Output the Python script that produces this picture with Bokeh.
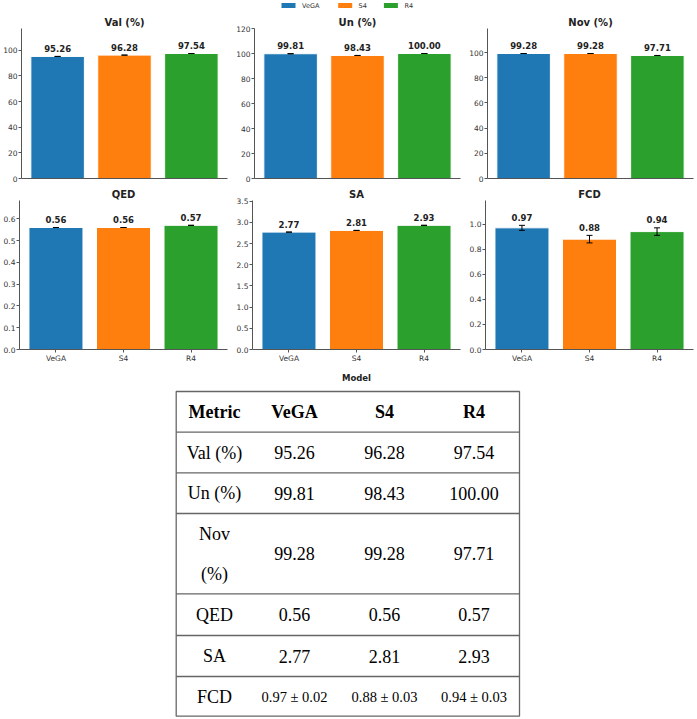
from bokeh.plotting import figure
from bokeh.models import Range1d, FixedTicker, ColumnDataSource, Whisker, TeeHead
from bokeh.layouts import column, row
from bokeh.embed import file_html
from bokeh.resources import INLINE
from bokeh.core.properties import value

# ---- data -------------------------------------------------------------
models = ["VeGA", "S4", "R4"]
colors = ["#1f77b4", "#ff7f0e", "#2ca02c"]
metrics = ["Val (%)", "Un (%)", "Nov (%)", "QED", "SA", "FCD"]

val_pct = [95.26, 96.28, 97.54]
un_pct = [99.81, 98.43, 100.00]
nov_pct = [99.28, 99.28, 97.71]
qed = [0.56, 0.56, 0.57]
sa = [2.77, 2.81, 2.93]
fcd = [0.97, 0.88, 0.94]
fcd_std = [0.02, 0.03, 0.03]
no_std = [0.0, 0.0, 0.0]

yticks_val = [0, 20, 40, 60, 80, 100]
yticks_un = [0, 20, 40, 60, 80, 100, 120]
yticks_nov = [0, 20, 40, 60, 80, 100]
yticks_qed = [0.0, 0.1, 0.2, 0.3, 0.4, 0.5, 0.6]
yticks_sa = [0.0, 0.5, 1.0, 1.5, 2.0, 2.5, 3.0, 3.5]
yticks_fcd = [0.0, 0.2, 0.4, 0.6, 0.8, 1.0]

SANS = "DejaVu Sans"
SERIF = "Liberation Serif"
AXIS_GREY = "#555555"
TEXT_GREY = "#333333"


def panel(title, means, stds, yticks, tick_fmt, bottom_row, width, min_right, xlabel=None):
    ymax = max(m + s for m, s in zip(means, stds)) * 1.2
    p = figure(
        width=width, height=201 if bottom_row else 172,
        x_range=Range1d(-0.54, 2.54), y_range=Range1d(0, ymax),
        output_backend="svg", toolbar_location=None,
        min_border_left=19, min_border_right=min_right,
        min_border_top=16,
        min_border_bottom=35 if bottom_row else 6,
        background_fill_color="white", border_fill_color="white",
    )
    p.outline_line_color = None
    p.grid.visible = False

    p.title.text = title
    p.title.align = "center"
    p.title.text_font = SANS
    p.title.text_font_style = "bold"
    p.title.text_font_size = "10px"
    p.title.text_color = "#222222"
    p.title.standoff = 1

    xs = list(range(len(models)))
    src = ColumnDataSource(dict(
        x=xs, top=means, color=colors,
        upper=[m + s for m, s in zip(means, stds)],
        lower=[m - s for m, s in zip(means, stds)],
        label=[f"{m:.2f}" for m in means],
    ))
    p.vbar(x="x", top="top", width=0.8, source=src, fill_color="color",
           line_color="white", line_width=1)

    whisk = Whisker(
        base="x", upper="upper", lower="lower", source=src,
        line_color="black", line_width=1, level="overlay",
        upper_head=TeeHead(size=6, line_color="black", line_width=1),
        lower_head=TeeHead(size=6, line_color="black", line_width=1),
    )
    p.add_layout(whisk)

    # value labels sit a few pixels above the top of each error bar
    p.text(x="x", y="upper", text="label", source=src,
           text_align="center", text_baseline="alphabetic", y_offset=-8,
           text_font=value(SANS), text_font_style="bold",
           text_font_size="8.5px", text_color="#222222")

    # y axis
    ya = p.yaxis[0]
    ya.ticker = FixedTicker(ticks=yticks)
    ya.major_label_overrides = {t: tick_fmt.format(t) for t in yticks}
    ya.minor_tick_line_color = None
    ya.major_tick_in = 0
    ya.major_tick_out = 3
    ya.major_label_standoff = 1
    ya.axis_line_color = AXIS_GREY
    ya.major_tick_line_color = AXIS_GREY
    ya.major_label_text_font = SANS
    ya.major_label_text_font_size = "7.5px"
    ya.major_label_text_color = TEXT_GREY

    # x axis
    xa = p.xaxis[0]
    xa.axis_line_color = AXIS_GREY
    xa.minor_tick_line_color = None
    xa.major_tick_in = 0
    if bottom_row:
        xa.ticker = FixedTicker(ticks=xs)
        xa.major_label_overrides = {i: m for i, m in enumerate(models)}
        xa.major_tick_out = 3
        xa.major_tick_line_color = AXIS_GREY
        xa.major_label_standoff = 1
        xa.major_label_text_font = SANS
        xa.major_label_text_font_size = "7.5px"
        xa.major_label_text_color = TEXT_GREY
        if xlabel:
            xa.axis_label = xlabel
            xa.axis_label_text_font = SANS
            xa.axis_label_text_font_style = "bold"
            xa.axis_label_text_font_size = "8.5px"
            xa.axis_label_text_color = "#222222"
            xa.axis_label_standoff = 7
    else:
        xa.ticker = FixedTicker(ticks=[])
        xa.major_tick_out = 0
        xa.major_label_text_font_size = "0px"
    return p


# ---- legend strip ---------------------------------------------------
leg = figure(width=697, height=12, x_range=Range1d(0, 697), y_range=Range1d(12, 0),
             output_backend="svg", toolbar_location=None,
             x_axis_type=None, y_axis_type=None, min_border=0)
leg.outline_line_color = None
leg.rect(x=[288, 344.7, 390.4], y=5, width=14, height=5,
         fill_color=colors, line_color=None)
leg.text(x=[301.5, 358, 404], y=5.3, text=models, text_baseline="middle",
         text_font=value(SANS), text_font_size="6.5px", text_color=TEXT_GREY)

# ---- bar panels ---------------------------------------------------------
p_val = panel(metrics[0], val_pct, no_std, yticks_val, "{:d}", False, 233, 6)
p_un = panel(metrics[1], un_pct, no_std, yticks_un, "{:d}", False, 233, 6)
p_nov = panel(metrics[2], nov_pct, no_std, yticks_nov, "{:d}", False, 231, 4)
p_qed = panel(metrics[3], qed, no_std, yticks_qed, "{:.1f}", True, 233, 6)
p_sa = panel(metrics[4], sa, no_std, yticks_sa, "{:.1f}", True, 233, 6, xlabel="Model")
p_fcd = panel(metrics[5], fcd, fcd_std, yticks_fcd, "{:.1f}", True, 231, 4)

# ---- summary table --------------------------------------------------------
tbl = figure(width=697, height=334, x_range=Range1d(0, 697), y_range=Range1d(719, 385),
             output_backend="svg", toolbar_location=None,
             x_axis_type=None, y_axis_type=None, min_border=0)
tbl.outline_line_color = None

T_LEFT, T_RIGHT, T_TOP, T_BOTTOM = 175.7, 519.0, 391.0, 715.7
row_lines = [431.7, 472.3, 513.0, 593.3, 635.0, 676.0]
col_x = [214, 294, 384, 473.5]
row_y = [452.0, 492.7, 553.3, 614.0, 655.5, 696.0]
BODY = "18px"

tbl.quad(left=T_LEFT, right=T_RIGHT, top=T_TOP, bottom=T_BOTTOM,
         fill_color=None, line_color="#666666", line_width=1.3)
tbl.segment(x0=T_LEFT, x1=T_RIGHT, y0=row_lines, y1=row_lines,
            line_color="#666666", line_width=1.3)

tbl.text(x=col_x, y=411.5, text=["Metric"] + models,
         text_align="center", text_baseline="middle",
         text_font=value(SERIF), text_font_style="bold",
         text_font_size=BODY, text_color="black")

series = [val_pct, un_pct, nov_pct, qed, sa]
for name, vals, y in zip(metrics[:5], series, row_y[:5]):
    if name == "Nov (%)":
        word, unit = name.split(" ")
        tbl.text(x=col_x[0], y=[y - 20, y + 20], text=[word, unit],
                 text_align="center", text_baseline="middle",
                 text_font=value(SERIF), text_font_size=BODY, text_color="black")
    else:
        tbl.text(x=col_x[0], y=y, text=[name], text_align="center", text_baseline="middle",
                 text_font=value(SERIF), text_font_size=BODY, text_color="black")
    tbl.text(x=col_x[1:], y=y, text=[f"{v:.2f}" for v in vals],
             text_align="center", text_baseline="middle",
             text_font=value(SERIF), text_font_size=BODY, text_color="black")

tbl.text(x=col_x[0], y=row_y[5], text=[metrics[5]], text_align="center", text_baseline="middle",
         text_font=value(SERIF), text_font_size=BODY, text_color="black")
tbl.text(x=col_x[1:], y=row_y[5],
         text=[f"{m:.2f} \u00b1 {s:.2f}" for m, s in zip(fcd, fcd_std)],
         text_align="center", text_baseline="middle",
         text_font=value(SERIF), text_font_size="14.5px", text_color="black")

layout = column(leg, row(p_val, p_un, p_nov), row(p_qed, p_sa, p_fcd), tbl)

open("out.html", "w").write(file_html(layout, INLINE))
